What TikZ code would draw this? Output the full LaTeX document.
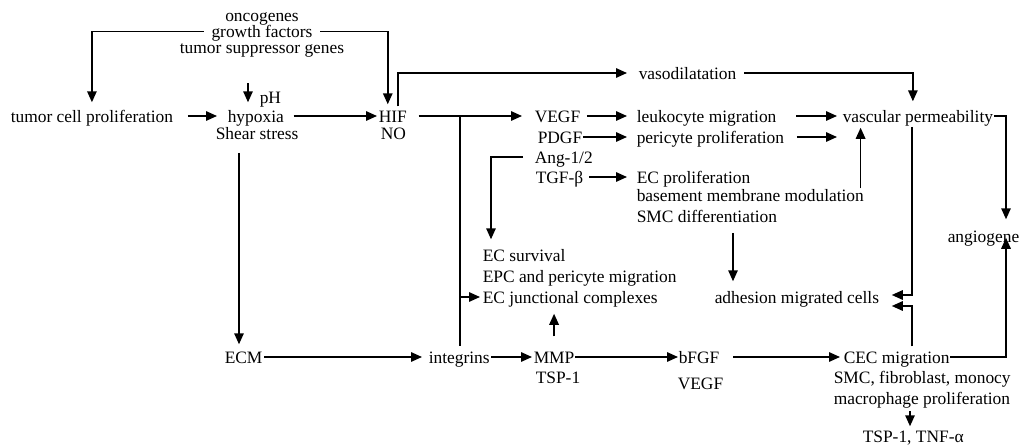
\documentclass[tikz,border=0pt]{standalone}
\usepackage{fontspec}
\setmainfont{Liberation Serif}
\usetikzlibrary{arrows.meta}
\begin{document}
\begin{tikzpicture}[x=1pt,y=-1pt,
  every node/.style={font=\fontsize{17.4pt}{15.5pt}\selectfont, inner sep=0pt,
    text height=12pt, text depth=0pt},
  lt/.style={anchor=base west},
  ct/.style={anchor=base},
  every path/.style={line width=1.5pt, line join=miter},
  arr/.style={-{Triangle[length=11pt,width=9.5pt]}}]
\useasboundingbox (0,0) rectangle (1025,447);

% ---- text items ----
\node[ct] (onc) at (262,21) {oncogenes};
\node[ct] (gf)  at (262,37.5) {growth factors};
\node[ct] (tsg) at (262,53) {tumor suppressor genes};
\node[lt] (tcp) at (10,122) {tumor cell proliferation};
\node[lt] (hyp) at (227,122) {hypoxia};
\node[lt] (shear) at (215,139) {Shear stress};
\node[lt] (ph) at (259,103) {pH};
\node[lt] (hif) at (378,122) {HIF};
\node[lt] (no) at (380,139) {NO};
\node[lt] (vaso) at (638,79) {vasodilatation};
\node[lt] (vegf) at (534,122) {VEGF};
\node[lt] (pdgf) at (537,143) {PDGF};
\node[lt] (ang) at (534,163) {Ang-1/2};
\node[lt] (tgf) at (535,183) {TGF-β};
\node[lt] (leuk) at (636,122) {leukocyte migration};
\node[lt] (peri) at (636,143) {pericyte proliferation};
\node[lt] (ecp) at (636,183) {EC proliferation};
\node[lt] (bmm) at (636,201) {basement membrane modulation};
\node[lt] (smcd) at (636,222) {SMC differentiation};
\node[lt] (vp) at (842,122) {vascular permeability};
\node[lt] (angio) at (947,242) {angiogene};
\node[lt] (ecs) at (482,261) {EC survival};
\node[lt] (epc) at (482,282) {EPC and pericyte migration};
\node[lt] (ecj) at (482,303) {EC junctional complexes};
\node[lt] (adh) at (714,303) {adhesion migrated cells};
\node[lt] (ecm) at (224,363) {ECM};
\node[lt] (intg) at (428,363) {integrins};
\node[lt] (mmp) at (533,363) {MMP};
\node[lt] (tsp) at (535,383) {TSP-1};
\node[lt] (bfgf) at (678,363) {bFGF};
\node[lt] (vegfb) at (677,389) {VEGF};
\node[lt] (cec) at (843,363) {CEC migration};
\node[lt] (smcf) at (833,383) {SMC, fibroblast, monocy};
\node[lt] (mac) at (833,404) {macrophage proliferation};
\node[lt] (tnf) at (862,442) {TSP-1, TNF-α};

% ---- routing columns ----
\coordinate (cPH) at (248,83);
\coordinate (cBr) at (460,0);
\coordinate (cAng) at (491,0);
\coordinate (cSmc) at (733,0);
\coordinate (cAdh) at (912,0);
\coordinate (cR) at (1006,0);
\coordinate (cEcm) at (239,0);
\coordinate (cTnf) at (910,0);

% ---- connectors ----
\draw[arr, shorten >=7pt] ([xshift=-7pt]gf.west) -| (tcp.north);
\draw[arr, shorten >=5pt] ([xshift=7pt]gf.east) -| ([xshift=-5pt]hif.north);
\draw[arr, shorten <=14pt, shorten >=10pt] (tcp.east) -- (hyp.west);
\draw[arr, shorten >=7pt] (cPH) -- (cPH |- hyp.north);
\draw[arr, shorten <=9pt, shorten >=1pt] (hyp.east) -- (hif.west);
\draw[arr, shorten <=3pt, shorten >=11pt] ([xshift=5pt]hif.north) |- (vaso.west);
\draw[arr, shorten <=7pt, shorten >=8pt] (vaso.east) -| ([xshift=-5pt]vp.north);
\draw[arr, shorten <=11pt, shorten >=12pt] (hif.east) -- (vegf.west);
\draw (cBr |- hif.east) -- ([yshift=4pt]cBr |- intg.north);
\draw[arr, shorten >=2pt] (cBr |- ecj.west) -- (ecj.west);
\draw[arr, shorten <=6pt, shorten >=9pt] (vegf.east) -- (leuk.west);
\draw[arr, shorten >=9pt] (pdgf.east) -- (peri.west);
\draw[arr, shorten <=5pt, shorten >=9pt] (tgf.east) -- (ecp.west);
\draw[arr, shorten <=11pt, shorten >=9pt] (ang.west) -| (cAng |- ecs.north);
\draw[arr, shorten <=19pt, shorten >=5pt] (leuk.east) -- (vp.west);
\draw[arr, shorten <=12pt, shorten >=5pt] (peri.east) -- (vp.west |- peri.east);
\draw[arr] ([xshift=-4pt]bmm.north east) -- ([xshift=-4pt,yshift=-5pt]bmm.north east |- vp.south);
\draw[arr, shorten >=10pt] (vp.east) -| (cR |- angio.north);
\draw[arr, shorten >=12pt] ([yshift=-4pt]cAdh |- vp.south) |- ([yshift=2pt]adh.east);
\draw[arr, shorten >=12pt] ([yshift=4pt]cAdh |- cec.north) |- ([yshift=-9pt]adh.east);
\draw[arr, shorten <=10pt, shorten >=9pt] (cSmc |- smcd.south) -- (cSmc |- adh.north);
\draw[arr, shorten <=14pt, shorten >=10pt] (mmp.north) -- (mmp.north |- ecj.south);
\draw[arr, shorten <=13pt, shorten >=6pt] (cEcm |- shear.south) -- (cEcm |- ecm.north);
\draw[arr, shorten <=1pt, shorten >=6pt] (ecm.east) -- (intg.west);
\draw[arr, shorten <=1pt, shorten >=1pt] (intg.east) -- (mmp.west);
\draw[arr] (mmp.east) -- (bfgf.west);
\draw[arr, shorten <=13pt, shorten >=3pt] (bfgf.east) -- (cec.west);
\draw[arr, shorten >=-5pt] (cec.east) -| (cR |- angio.south);
\draw[arr, shorten <=6pt, shorten >=3pt] (cTnf |- mac.south) -- (cTnf |- tnf.north);
\end{tikzpicture}
\end{document}
